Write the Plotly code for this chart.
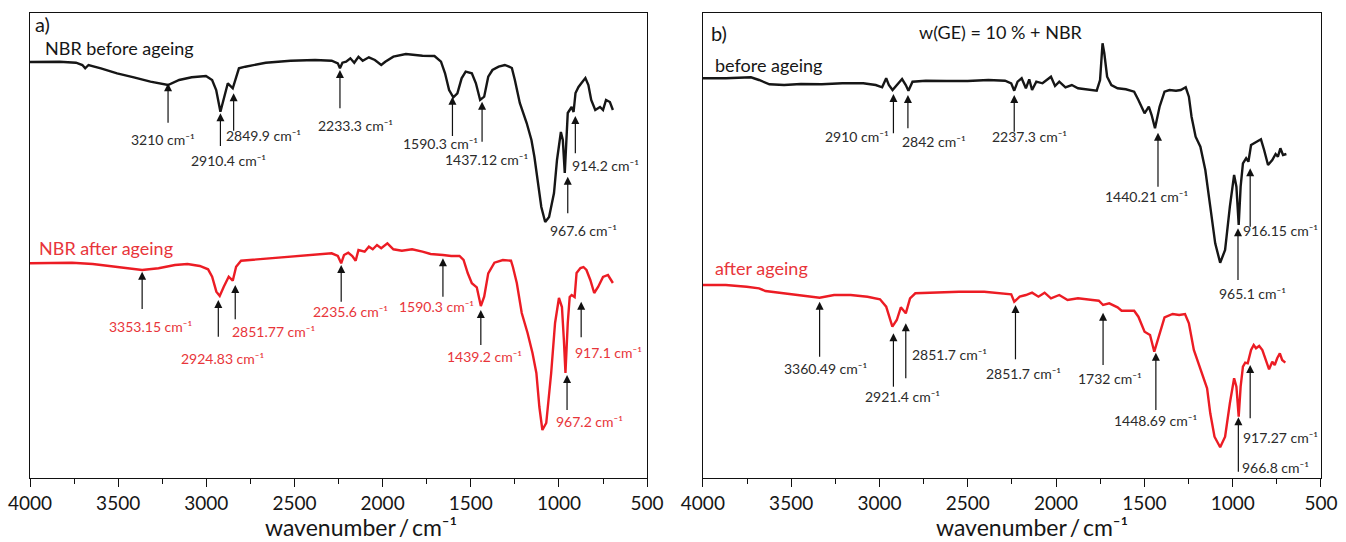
import plotly.graph_objects as go

# ---------------- data (wavenumber in cm^-1, transmittance in arbitrary units) ----------------
wn_a_before = [4000, 3832, 3739, 3703, 3687, 3668, 3598, 3506, 3411, 3317, 3217, 3154, 3083, 3002, 2967, 2944,
               2920, 2901, 2878, 2850, 2831, 2815, 2779, 2663, 2522, 2383, 2289, 2254, 2242, 2228, 2207, 2183,
               2161, 2137, 2113, 2078, 2044, 2008, 1985, 1939, 1868, 1774, 1706, 1669, 1646, 1623, 1599, 1576,
               1552, 1529, 1494, 1471, 1447, 1424, 1401, 1377, 1342, 1307, 1283, 1267, 1250, 1222, 1183, 1156,
               1139, 1122, 1100, 1078, 1056, 1028, 1011, 989, 978, 967, 961, 950, 928, 917, 906, 889, 872, 850,
               833, 817, 794, 767, 750, 733, 711, 694]
t_a_before = [416, 416.3, 415.3, 413, 409.7, 413, 409.7, 404.7, 400.7, 396.3, 393, 398, 400.7, 402, 398, 388,
              366.3, 378, 394.7, 389.7, 401.3, 409.7, 411.3, 415.3, 417.3, 418, 417.3, 414.7, 409.7, 415.3, 416.3, 419.7,
              415.3, 421.3, 417.3, 420.7, 418, 413, 416.3, 421.3, 424, 422.3, 422, 416.3, 404.7, 388, 380.7, 384.7,
              399.7, 406.3, 404.7, 394.7, 378, 381.3, 401.3, 408, 411.3, 413, 411.3, 410, 398, 375, 355, 338,
              321, 298, 271, 256, 261, 285, 318, 346, 338, 305, 328, 365, 371, 366, 385, 391, 395, 400,
              393, 378, 368, 371, 368, 378, 376, 368]

wn_a_after = [4000, 3762, 3644, 3528, 3411, 3364, 3271, 3178, 3107, 3037, 2990, 2967, 2943, 2924, 2901, 2873,
              2850, 2831, 2803, 2709, 2593, 2476, 2359, 2289, 2254, 2235, 2219, 2195, 2172, 2153, 2137, 2102,
              2078, 2056, 2032, 2008, 1973, 1939, 1891, 1833, 1774, 1728, 1658, 1611, 1564, 1541, 1517, 1494,
              1466, 1443, 1424, 1401, 1366, 1318, 1272, 1261, 1239, 1211, 1178, 1150, 1128, 1111, 1094, 1072,
              1044, 1022, 1000, 983, 972, 963, 950, 939, 928, 911, 900, 878, 861, 844, 822, 800, 778, 750,
              722, 694]
t_a_after = [214.7, 215.3, 214, 211.3, 208.7, 208, 209.7, 213, 214, 212, 208.7, 201.3, 186.3, 182, 191.3, 201.3,
             197.3, 211.3, 217.3, 218.7, 220.3, 222, 224, 224.7, 222, 214.7, 223, 225.3, 222, 217.3, 228, 226.3,
             231.3, 228.7, 233, 229.7, 234.7, 228.7, 227.3, 228.7, 226.3, 224, 223, 222, 222, 218, 204.7, 194.7,
             190.7, 172, 181.3, 204.7, 215.3, 218, 217.3, 211, 195, 165, 145, 125, 105, 71, 48, 55,
             105, 155, 180, 171, 138, 105, 155, 181, 183, 181, 205, 210, 211, 208, 198, 185, 191, 201,
             203, 195]

wn_b_before = [4000, 3870, 3728, 3682, 3623, 3540, 3445, 3327, 3210, 3092, 3021, 2985, 2962, 2947, 2926, 2902,
               2872, 2851, 2836, 2813, 2738, 2620, 2501, 2383, 2289, 2254, 2237, 2218, 2195, 2171, 2152, 2136,
               2112, 2077, 2053, 2029, 2006, 1982, 1947, 1911, 1876, 1817, 1770, 1751, 1737, 1727, 1711, 1687,
               1652, 1605, 1558, 1534, 1499, 1475, 1459, 1440, 1414, 1386, 1358, 1321, 1294, 1266, 1248, 1233,
               1210, 1183, 1155, 1127, 1099, 1071, 1043, 1016, 992, 979, 966, 955, 942, 924, 911, 896, 877,
               859, 840, 822, 800, 776, 757, 744, 730, 715, 696]
t_b_before = [399.7, 399.7, 400.7, 398, 393.7, 393, 394, 393.7, 394.7, 394.7, 393, 390.7, 399.7, 393, 388, 393,
              399, 393, 387.3, 396.3, 397.3, 397, 397, 398, 397.3, 394.7, 387.3, 396.3, 399.7, 389.7, 398.7, 388,
              396.3, 394.7, 398, 401.3, 392, 396.3, 390.7, 393, 389.7, 388.7, 387.3, 398, 434.7, 424.7, 401.3, 393,
              389.7, 388.7, 386.3, 378, 364.7, 371.3, 363, 349.7, 371.3, 386.3, 388, 387.3, 388, 390.7, 381.3, 361.3,
              341.3, 331.3, 308, 271.3, 234.7, 215.3, 228, 271.3, 303, 291.3, 253, 291.3, 314.7, 319.7, 316.3, 333, 334.7,
              336.3, 338.7, 328, 313, 318, 324, 321.3, 329.7, 323, 324]

wn_b_after = [4000, 3870, 3752, 3682, 3646, 3564, 3469, 3398, 3339, 3257, 3163, 3068, 2997, 2962, 2927, 2902,
              2879, 2851, 2827, 2797, 2690, 2549, 2407, 2289, 2254, 2237, 2206, 2171, 2136, 2100, 2065, 2029,
              1982, 1935, 1876, 1794, 1758, 1734, 1699, 1652, 1629, 1558, 1534, 1499, 1468, 1444, 1417, 1386,
              1340, 1303, 1270, 1248, 1220, 1183, 1145, 1127, 1103, 1071, 1043, 1016, 992, 979, 966, 955, 942,
              929, 915, 896, 881, 868, 850, 832, 813, 794, 776, 762, 748, 733, 720, 702]
t_b_after = [193, 193, 191.3, 189.7, 187, 185.3, 183, 181.3, 180.3, 183, 183, 181.3, 178.7, 171.3, 151.3, 158,
             170.7, 164.7, 179.7, 184.7, 185.7, 186.3, 186.3, 184.7, 183.7, 176.3, 181.3, 183, 185.3, 181.3, 185.3, 179.7,
             183, 178, 179.7, 178, 177.3, 173, 174.7, 170.7, 167.3, 167.3, 161.3, 146.3, 143, 126.3, 141.3, 160.7,
             164, 163, 164, 154.7, 128, 108, 89.7, 64.7, 41.3, 30.7, 41.3, 74.7, 99.7, 91.3, 61.3, 91.3, 111.3,
             115.3, 114.7, 128, 133, 129.7, 132, 128, 118, 108.7, 116.3, 113, 119.7, 124.7, 118, 115.3]

tick_vals = [4000, 3500, 3000, 2500, 2000, 1500, 1000, 500]
tick_text = ["4000", "3500", "3000", "2500", "2000", "1500", "1000", "500"]

# peak annotations: (label, label_wn, label_T, arrow_wn, tip_T, tail_T)
peaks_a_before = [
    ("3210", 3247, 338.7, 3217, 394.7, 355.3),
    ("2910.4", 2873, 318, 2920, 364.7, 332),
    ("2849.9", 2674, 343, 2845, 384.7, 347.3),
    ("2233.3", 2153, 353, 2242, 408, 369.7),
    ("1590.3", 1669, 334.7, 1604, 381.3, 342),
    ("1437.12", 1412, 318.7, 1436, 376.3, 336.3),
    ("967.6", 859, 247.7, 950, 301.3, 264.7),
    ("914.2", 737, 313, 907, 362, 324.7),
]
peaks_a_after = [
    ("3353.15", 3317, 151.3, 3364, 206.3, 169),
    ("2924.83", 2908, 119.7, 2932, 178, 141.3),
    ("2851.77", 2617, 146.3, 2836, 193, 158.7),
    ("2235.6", 2183, 166.3, 2235, 213, 176.3),
    ("1590.3", 1693, 172, 1658, 219.7, 181.3),
    ("1439.2", 1424, 121.3, 1443, 168, 133),
    ("967.2", 825, 56.3, 954, 103, 68),
    ("917.1", 717, 125.3, 874, 176.3, 140.7),
]
peaks_b_before = [
    ("2910", 3127, 341.3, 2921, 384, 344.7),
    ("2842", 2691, 336.3, 2839, 383, 349.7),
    ("2237.3", 2148, 342, 2237, 383, 346.3),
    ("1440.21", 1488, 281.3, 1423, 345.3, 291.3),
    ("916.15", 732, 248, 901, 309.7, 251.3),
    ("965.1", 887, 184.7, 970, 249.7, 198),
]
peaks_b_after = [
    ("3360.49", 3308, 109.7, 3339, 176.3, 121.3),
    ("2921.4", 2867, 81.3, 2921, 144.7, 91.3),
    ("2851.7", 2601, 124, 2851, 154.7, 99.7),
    ("2851.7", 2183, 104.7, 2230, 173, 118.7),
    ("1732", 1695, 99.7, 1734, 165.3, 113),
    ("1448.69", 1439, 58, 1435, 125.3, 68),
    ("917.27", 732, 40.7, 901, 113, 59.7),
    ("966.8", 756, 10.7, 968, 60.7, 6.3),
]

# ---------------- styling ----------------
FONT = "Lato"
BLACK = "#161616"
RED = "#ec1c24"
RED_TXT = "#e8353a"
GRAY_TXT = "#2b2b2b"

fig = go.Figure()
fig.add_trace(go.Scatter(x=wn_a_before, y=t_a_before, mode="lines", line=dict(color=BLACK, width=2.4),
                         xaxis="x", yaxis="y", showlegend=False, hoverinfo="skip"))
fig.add_trace(go.Scatter(x=wn_a_after, y=t_a_after, mode="lines", line=dict(color=RED, width=2.4),
                         xaxis="x", yaxis="y", showlegend=False, hoverinfo="skip"))
fig.add_trace(go.Scatter(x=wn_b_before, y=t_b_before, mode="lines", line=dict(color=BLACK, width=2.4),
                         xaxis="x2", yaxis="y2", showlegend=False, hoverinfo="skip"))
fig.add_trace(go.Scatter(x=wn_b_after, y=t_b_after, mode="lines", line=dict(color=RED, width=2.4),
                         xaxis="x2", yaxis="y2", showlegend=False, hoverinfo="skip"))

annotations = []
UNIT = " cm\u207b\u00b9"


def add_peaks(peaks, xa, ya, txtcolor):
    xs, ys, tipx, tipy = [], [], [], []
    for lab, lx, ly, axw, tip, tail in peaks:
        xs += [axw, axw, None]
        ys += [tail, tip - 4, None]
        tipx.append(axw)
        tipy.append(tip)
        annotations.append(dict(x=lx, y=ly, xref=xa, yref=ya, text=lab + UNIT,
                                showarrow=False, xanchor="center", yanchor="middle",
                                font=dict(family=FONT, size=14, color=txtcolor)))
    fig.add_trace(go.Scatter(x=xs, y=ys, mode="lines", line=dict(color="#111", width=1.2),
                             xaxis=xa, yaxis=ya, showlegend=False, hoverinfo="skip"))
    fig.add_trace(go.Scatter(x=tipx, y=tipy, mode="markers",
                             marker=dict(symbol="arrow-up", size=8, color="#111", line=dict(width=0)),
                             xaxis=xa, yaxis=ya, showlegend=False, hoverinfo="skip"))


add_peaks(peaks_a_before, "x", "y", GRAY_TXT)
add_peaks(peaks_a_after, "x", "y", RED_TXT)
add_peaks(peaks_b_before, "x2", "y2", GRAY_TXT)
add_peaks(peaks_b_after, "x2", "y2", GRAY_TXT)

texts = [
    ("a)", 3985, 454, "x", "y", BLACK, 20),
    ("NBR before ageing", 3925, 430, "x", "y", BLACK, 18),
    ("NBR after ageing", 3961, 229.7, "x", "y", RED_TXT, 18),
    ("b)", 3967, 444.7, "x2", "y2", BLACK, 20),
    ("before ageing", 3941, 413, "x2", "y2", BLACK, 18),
    ("after ageing", 3941, 209.7, "x2", "y2", RED_TXT, 18),
]
for t, x, y, xr, yr, c, s in texts:
    annotations.append(dict(x=x, y=y, xref=xr, yref=yr, text=t, showarrow=False, xanchor="left",
                            yanchor="middle", font=dict(family=FONT, size=s, color=c)))
annotations.append(dict(x=2310, y=445.7, xref="x2", yref="y2", text="w(GE) = 10 % + NBR", showarrow=False,
                        xanchor="center", yanchor="middle", font=dict(family=FONT, size=18, color=BLACK)))

xtitle = "wavenumber\u2009/\u2009cm\u207b\u00b9"
for xp in (0.2561, 0.7762):
    annotations.append(dict(x=xp, y=-0.105, xref="paper", yref="paper", text=xtitle, showarrow=False,
                            xanchor="center", yanchor="middle", font=dict(family=FONT, size=23, color=BLACK)))

xaxis_common = dict(range=[4000, 500], tickvals=tick_vals, ticktext=tick_text, ticks="outside", ticklen=8,
                    tickwidth=1.3, tickcolor="#111", showline=True, linecolor="#111", linewidth=1.4, mirror=True,
                    showgrid=False, zeroline=False, tickfont=dict(family=FONT, size=19, color=BLACK),
                    minor=dict(dtick=250, tick0=0, ticks="outside", ticklen=5, tickwidth=1.2, tickcolor="#111"))
yaxis_common = dict(range=[0, 465], showticklabels=False, ticks="", showgrid=False, zeroline=False,
                    showline=True, linecolor="#111", linewidth=1.4, mirror=True)

fig.update_layout(
    width=1346, height=542,
    margin=dict(l=20, r=8, t=13, b=64),
    paper_bgcolor="white", plot_bgcolor="white",
    xaxis=dict(domain=[0, 0.478], anchor="y", **xaxis_common),
    xaxis2=dict(domain=[0.5212, 1], anchor="y2", **xaxis_common),
    yaxis=dict(domain=[0, 1], anchor="x", **yaxis_common),
    yaxis2=dict(domain=[0, 1], anchor="x2", **yaxis_common),
    annotations=annotations,
    font=dict(family=FONT),
)

fig.write_html("out.html")
